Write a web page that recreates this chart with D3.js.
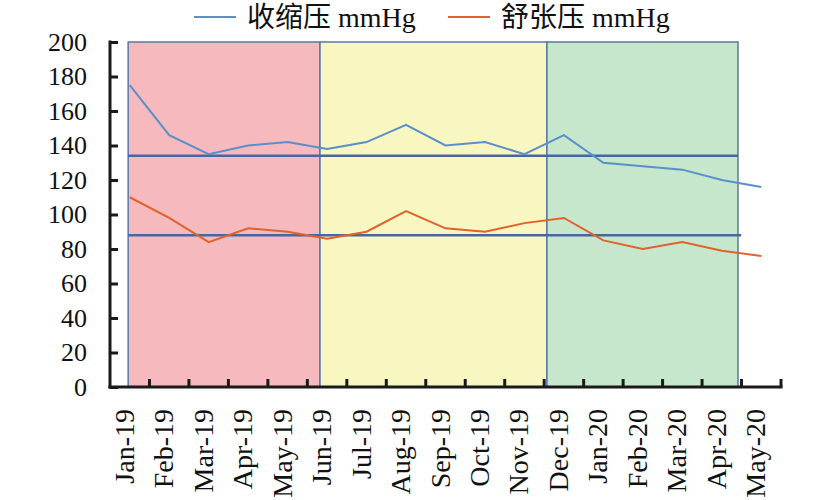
<!DOCTYPE html>
<html>
<head>
<meta charset="utf-8">
<script src="https://cdn.jsdelivr.net/npm/d3@7"></script>
<style>
  body { margin: 0; background: #fff; }
  text { font-family: "Liberation Serif", "Noto Sans CJK SC", serif; }
</style>
</head>
<body>
<div id="chart"></div>
<script>
var months = ["Jan-19", "Feb-19", "Mar-19", "Apr-19", "May-19", "Jun-19", "Jul-19", "Aug-19",
              "Sep-19", "Oct-19", "Nov-19", "Dec-19", "Jan-20", "Feb-20", "Mar-20", "Apr-20", "May-20"];
var systolic = [175, 146, 135, 140, 142, 138, 142, 152, 140, 142, 135, 146, 130, 128, 126, 120, 116];
var diastolic = [110, 98, 84, 92, 90, 86, 90, 102, 92, 90, 95, 98, 85, 80, 84, 79, 76];
var seriesNames = ["收缩压 mmHg", "舒张压 mmHg"];
var yTicks = [0, 20, 40, 60, 80, 100, 120, 140, 160, 180, 200];
// shaded periods, in month-index units
var periods = [[-0.04, 4.82], [4.82, 10.57], [10.57, 15.41]];
var periodColors = ["#f6b9bd", "#f8f7c1", "#c6e7cc"];
// mean reference lines [value, from index, to index]
var refLines = [[134, -0.04, 15.41], [88, -0.04, 15.49]];

function init () {
    var w = 828, h = 500;
    var padLeft = 110, padRight = 781, padTop = 42, padBottom = 387;
    var blue = "#5a8fca", orange = "#e0622c";

    var svg = d3.select("#chart").append("svg")
        .attr("width", w)
        .attr("height", h);

    var xBand = d3.scaleBand()
        .domain(months)
        .range([padLeft, padRight]);

    var xIdx = d3.scaleLinear()
        .domain([0, months.length - 1])
        .range([padLeft + xBand.bandwidth() / 2, padRight - xBand.bandwidth() / 2]);

    var yScale = d3.scaleLinear()
        .domain([0, 200])
        .range([padBottom, padTop]);

    // background periods
    svg.selectAll("rect.period")
        .data(periods)
        .enter()
        .append("rect")
        .attr("class", "period")
        .attr("x", function(d) { return xIdx(d[0]); })
        .attr("y", yScale(200))
        .attr("width", function(d) { return xIdx(d[1]) - xIdx(d[0]); })
        .attr("height", yScale(0) - yScale(200))
        .attr("fill", function(d, i) { return periodColors[i]; })
        .attr("stroke", "#5878a8")
        .attr("stroke-width", 1.5);

    // reference lines
    svg.selectAll("line.ref")
        .data(refLines)
        .enter()
        .append("line")
        .attr("x1", function(d) { return xIdx(d[1]); })
        .attr("x2", function(d) { return xIdx(d[2]); })
        .attr("y1", function(d) { return yScale(d[0]); })
        .attr("y2", function(d) { return yScale(d[0]); })
        .attr("stroke", "#4767a0")
        .attr("stroke-width", 2.5);

    var line = d3.line()
        .x(function(d, i) { return xIdx(i); })
        .y(function(d) { return yScale(d); });

    svg.append("path")
        .datum(systolic)
        .attr("d", line)
        .attr("fill", "none")
        .attr("stroke", blue)
        .attr("stroke-width", 2);

    svg.append("path")
        .datum(diastolic)
        .attr("d", line)
        .attr("fill", "none")
        .attr("stroke", orange)
        .attr("stroke-width", 2);

    // y axis
    var yAxis = d3.axisRight(yScale)
        .tickValues(yTicks)
        .tickSize(8)
        .tickFormat("");

    var gy = svg.append("g")
        .attr("transform", "translate(" + padLeft + ",0)")
        .call(yAxis);
    gy.select(".domain").remove();
    gy.append("line")
        .attr("x1", 0).attr("x2", 0)
        .attr("y1", padTop - 1.5).attr("y2", padBottom + 1.5)
        .attr("stroke", "#1a1a1a")
        .attr("stroke-width", 3);
    gy.selectAll(".tick line").attr("stroke", "#1a1a1a").attr("stroke-width", 3);

    svg.selectAll("text.ylab")
        .data(yTicks)
        .enter()
        .append("text")
        .attr("class", "ylab")
        .attr("x", 87)
        .attr("y", function(d) { return yScale(d); })
        .attr("dy", "0.33em")
        .attr("text-anchor", "end")
        .attr("font-size", 26)
        .attr("fill", "#111")
        .text(function(d) { return d; });

    // x axis, ticks between categories
    var xEdge = d3.scaleLinear()
        .domain([0, months.length])
        .range([padLeft, padRight]);

    svg.append("line")
        .attr("x1", padLeft - 1.5).attr("x2", padRight + 1.5)
        .attr("y1", padBottom).attr("y2", padBottom)
        .attr("stroke", "#1a1a1a")
        .attr("stroke-width", 3);

    svg.selectAll("line.xtick")
        .data(d3.range(1, months.length + 1))
        .enter()
        .append("line")
        .attr("x1", function(d) { return xEdge(d); })
        .attr("x2", function(d) { return xEdge(d); })
        .attr("y1", padBottom)
        .attr("y2", padBottom - 8)
        .attr("stroke", "#1a1a1a")
        .attr("stroke-width", 3);

    svg.selectAll("text.xlab")
        .data(months)
        .enter()
        .append("text")
        .attr("class", "xlab")
        .attr("transform", function(d) {
            return "translate(" + (xBand(d) + xBand.bandwidth() / 2 + 4) + "," + 409 + ") rotate(-90)";
        })
        .attr("text-anchor", "end")
        .attr("font-size", 28)
        .attr("fill", "#111")
        .text(function(d) { return d; });

    // legend
    var legend = svg.selectAll("g.legend")
        .data(seriesNames)
        .enter()
        .append("g")
        .attr("transform", function(d, i) { return "translate(" + [194, 448][i] + ",0)"; });

    legend.append("line")
        .attr("x1", 0).attr("x2", 42)
        .attr("y1", 17).attr("y2", 17)
        .attr("stroke", function(d, i) { return [blue, orange][i]; })
        .attr("stroke-width", 2);

    legend.append("text")
        .attr("x", 53)
        .attr("y", 27)
        .attr("font-size", 28)
        .attr("fill", "#111")
        .text(function(d) { return d; });
}
window.onload = init;
</script>
</body>
</html>
